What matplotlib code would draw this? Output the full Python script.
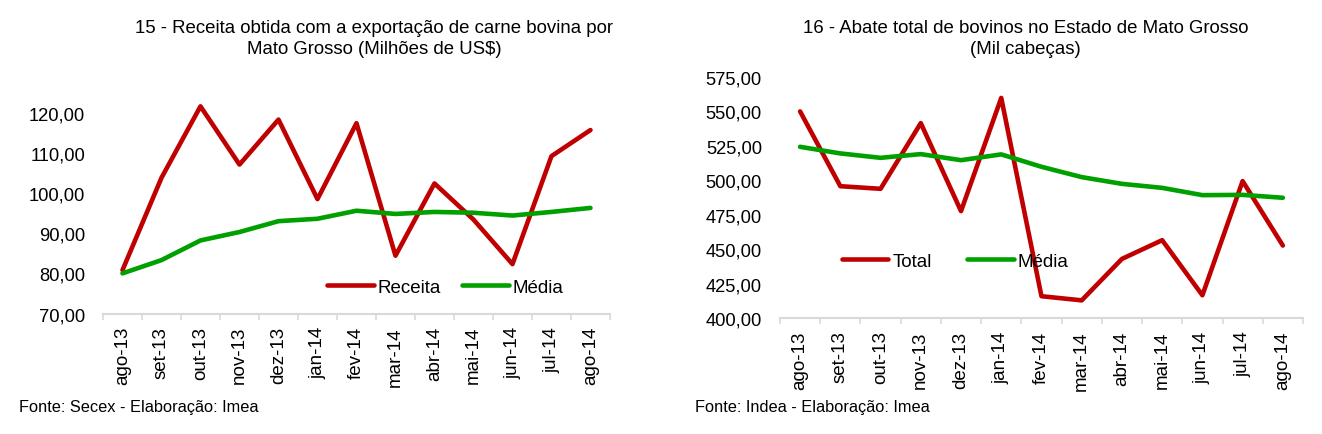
import matplotlib.pyplot as plt
from matplotlib.ticker import FuncFormatter, FixedLocator

plt.rcParams['font.family'] = ['Liberation Sans', 'DejaVu Sans']

meses = ['ago-13', 'set-13', 'out-13', 'nov-13', 'dez-13', 'jan-14', 'fev-14',
         'mar-14', 'abr-14', 'mai-14', 'jun-14', 'jul-14', 'ago-14']

# grafico 15 - receita (milhoes US$)
receita = [80.8, 103.8, 121.6, 107.1, 118.3, 98.5, 117.4,
           84.4, 102.4, 93.4, 82.3, 109.2, 115.7]
receita_media = [80.0, 83.3, 88.2, 90.3, 93.0, 93.6, 95.6,
                 94.8, 95.3, 95.1, 94.4, 95.3, 96.3]

# grafico 16 - abate (mil cabecas)
abate = [550.0, 495.7, 493.8, 541.5, 477.6, 559.8, 415.8,
         412.8, 442.9, 456.5, 416.5, 499.4, 452.6]
abate_media = [524.3, 519.5, 516.3, 519.0, 514.6, 518.8, 509.8,
               502.3, 497.4, 494.5, 489.2, 489.4, 487.3]

VERMELHO = '#C00000'
VERDE = '#00A000'
FS = 13.5


def virgula(v, pos):
    return ('%.2f' % v).replace('.', ',')


def monta(ax, serie, media, nomes, ylim, yticks, leg_pos, colsp):
    x = range(len(meses))
    ax.plot(x, serie, color=VERMELHO, lw=3.3, label=nomes[0], solid_capstyle='round')
    ax.plot(x, media, color=VERDE, lw=3.3, label=nomes[1], solid_capstyle='round')
    ax.set_xlim(-0.5, len(meses) - 0.5)
    ax.set_ylim(*ylim)
    ax.set_yticks(yticks)
    ax.yaxis.set_major_formatter(FuncFormatter(virgula))
    ax.set_xticks(list(x))
    ax.set_xticklabels(meses, rotation=90, fontsize=FS)
    ax.xaxis.set_minor_locator(FixedLocator([i - 0.5 for i in range(len(meses) + 1)]))
    ax.tick_params(axis='x', which='major', length=0, pad=9)
    ax.tick_params(axis='x', which='minor', length=4, color='#D9D9D9', width=1.2)
    ax.tick_params(axis='y', length=0, labelsize=13.2, pad=13)
    for s in ['top', 'right', 'left']:
        ax.spines[s].set_visible(False)
    ax.spines['bottom'].set_color('#D9D9D9')
    ax.spines['bottom'].set_linewidth(1.5)
    ax.legend(loc='center', bbox_to_anchor=leg_pos, ncol=2, frameon=False,
              fontsize=FS, handlelength=2.5, handletextpad=0.2,
              columnspacing=colsp, borderaxespad=0)


fig = plt.figure(figsize=(13.22, 4.35), dpi=100)

ax1 = fig.add_axes([0.0779, 0.277, 0.3835, 0.5076])
monta(ax1, receita, receita_media, ['Receita', 'Média'], (70, 125),
      [70, 80, 90, 100, 110, 120], (0.675, 0.12), 1.1)

ax2 = fig.add_axes([0.590, 0.2667, 0.3956, 0.554])
monta(ax2, abate, abate_media, ['Total', 'Média'], (400, 575),
      [400, 425, 450, 475, 500, 525, 550, 575], (0.335, 0.2365), 1.9)

fig.text(0.283, 0.911, '15 - Receita obtida com a exportação de carne bovina por\n'
         'Mato Grosso (Milhões de US$)', ha='center', va='center',
         fontsize=13.4, linespacing=1.3)
fig.text(0.776, 0.911, '16 - Abate total de bovinos no Estado de Mato Grosso\n'
         '(Mil cabeças)', ha='center', va='center', fontsize=13.4, linespacing=1.3)

fig.text(0.014, 0.064, 'Fonte: Secex - Elaboração: Imea', fontsize=11.8, va='center')
fig.text(0.526, 0.064, 'Fonte: Indea - Elaboração: Imea', fontsize=11.8, va='center')

fig.savefig('out.png', dpi=100)
